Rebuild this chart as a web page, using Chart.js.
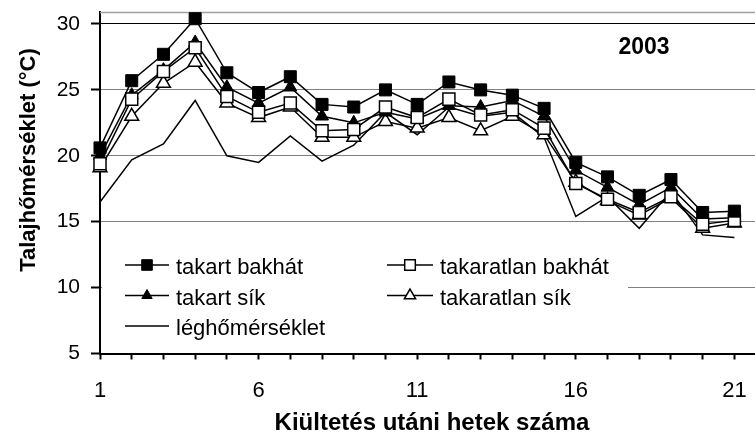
<!DOCTYPE html>
<html><head><meta charset="utf-8">
<script src="https://cdn.jsdelivr.net/npm/chart.js@4/dist/chart.umd.min.js"></script>
<style>html,body{margin:0;padding:0;background:#fff}</style>
</head><body>
<canvas id="c" width="755" height="434" style="display:block;width:755px;height:434px"></canvas>
<script>
const weeks = [1,2,3,4,5,6,7,8,9,10,11,12,13,14,15,16,17,18,19,20,21];
const takartBakhat     = [20.6,25.7,27.7,30.4,26.3,24.8,26.0,23.9,23.7,25.0,23.9,25.6,25.0,24.6,23.6,19.5,18.4,17.0,18.2,15.7,15.8];
const takaratlanBakhat = [19.4,24.3,26.4,28.2,24.5,23.3,24.0,21.9,22.0,23.7,22.9,24.3,23.1,23.5,22.1,17.9,16.7,15.7,16.9,14.8,15.1];
const takartSik        = [20.0,24.6,26.5,28.6,25.2,24.0,25.2,23.0,22.5,23.3,22.8,23.8,23.7,24.2,23.0,18.9,17.6,16.3,17.6,15.2,15.3];
const takaratlanSik    = [19.1,23.0,25.5,27.1,24.0,22.9,23.7,21.4,21.4,22.6,22.1,22.9,21.9,23.0,21.6,18.0,16.6,15.5,16.8,14.5,14.9];
const leghomerseklet   = [16.5,19.7,20.9,24.2,20.0,19.5,21.5,19.6,20.8,23.3,21.6,23.7,23.0,23.3,21.4,15.4,16.9,14.5,17.3,14.0,13.8];
const yTicks = [5,10,15,20,25,30];
const xLabelTicks = [1,6,11,16,21];
const yTitle = 'Talajhőmérséklet (°C)';
const xTitle = 'Kiültetés utáni hetek száma';
const yearLabel = '2003';

const FONT = '"Liberation Sans", Arial, sans-serif';
Chart.defaults.font.family = FONT;
Chart.defaults.color = '#000';

const pts = arr => weeks.map((w, i) => ({x: w, y: arr[i]}));

const datasets = [
  {label: 'takart bakhát', data: pts(takartBakhat), pointStyle: 'rect', pointRadius: 8.5,
   pointBackgroundColor: '#000', pointBorderColor: '#000', pointBorderWidth: 1, legRadius: 7.5, col: 0, row: 0},
  {label: 'takaratlan bakhát', data: pts(takaratlanBakhat), pointStyle: 'rect', pointRadius: 8.5,
   pointBackgroundColor: '#fff', pointBorderColor: '#000', pointBorderWidth: 1.5, legRadius: 7.5, col: 1, row: 0},
  {label: 'takart sík', data: pts(takartSik), pointStyle: 'triangle', pointRadius: 7.5,
   pointBackgroundColor: '#000', pointBorderColor: '#000', pointBorderWidth: 1, legRadius: 6, col: 0, row: 1},
  {label: 'takaratlan sík', data: pts(takaratlanSik), pointStyle: 'triangle', pointRadius: 8,
   pointBackgroundColor: '#fff', pointBorderColor: '#000', pointBorderWidth: 1.5, legRadius: 6.5, col: 1, row: 1},
  {label: 'léghőmérséklet', data: pts(leghomerseklet), pointStyle: false, pointRadius: 0,
   legRadius: 0, col: 0, row: 2}
].map(d => Object.assign({borderColor: '#000', borderWidth: 1.5, tension: 0, clip: false, fill: false}, d));

const decor = {
  id: 'decor',
  beforeDatasetsDraw(chart) {
    const {ctx, chartArea: a} = chart;
    ctx.save();
    ctx.strokeStyle = '#a0a0a0'; ctx.lineWidth = 1.5;
    ctx.beginPath(); ctx.moveTo(a.left, a.top + 0.5); ctx.lineTo(a.right, a.top + 0.5); ctx.stroke();
    ctx.fillStyle = '#fff';
    ctx.fillRect(a.left + 2, 240, 628 - a.left - 2, 351 - 240);
    const colX = [{l0: 125, l1: 169, m: 147, t: 176}, {l0: 387, l1: 433, m: 410, t: 440}];
    const rowY = [265, 295.5, 326];
    ctx.font = '22px ' + FONT;
    ctx.textBaseline = 'alphabetic';
    ctx.textAlign = 'left';
    chart.data.datasets.forEach(ds => {
      const c = colX[ds.col], y = rowY[ds.row];
      ctx.strokeStyle = '#000'; ctx.lineWidth = 1.5;
      ctx.beginPath(); ctx.moveTo(c.l0, y); ctx.lineTo(c.l1, y); ctx.stroke();
      if (ds.pointStyle) {
        ctx.fillStyle = ds.pointBackgroundColor; ctx.strokeStyle = ds.pointBorderColor;
        ctx.lineWidth = ds.pointBorderWidth;
        Chart.helpers.drawPoint(ctx, {pointStyle: ds.pointStyle, radius: ds.legRadius, borderWidth: ds.pointBorderWidth, rotation: 0}, c.m, y);
      }
      ctx.fillStyle = '#000';
      ctx.fillText(ds.label, c.t, y + 9);
    });
    ctx.restore();
  },
  afterDraw(chart) {
    const {ctx} = chart;
    ctx.save();
    ctx.fillStyle = '#000';
    ctx.textBaseline = 'alphabetic';
    ctx.textAlign = 'center';
    ctx.font = 'bold 24px ' + FONT;
    ctx.fillText(xTitle, 432, 430);
    ctx.font = 'bold 23px ' + FONT;
    ctx.fillText(yearLabel, 644, 54);
    ctx.translate(35, 160);
    ctx.rotate(-Math.PI / 2);
    ctx.font = 'bold 22px ' + FONT;
    ctx.fillText(yTitle, 0, 0);
    ctx.restore();
  }
};

new Chart(document.getElementById('c'), {
  type: 'line',
  data: {datasets},
  plugins: [decor],
  options: {
    responsive: false,
    animation: false,
    devicePixelRatio: 1,
    events: [],
    layout: {autoPadding: false, padding: {top: 12, right: 0, left: 0, bottom: 0}},
    plugins: {legend: {display: false}, tooltip: {enabled: false}, title: {display: false}},
    scales: {
      x: {
        type: 'linear', min: 1, max: 21.65,
        afterFit(s) { s.height = 434 - 12 - 341.5; s.paddingLeft = 0; s.paddingRight = 0; },
        border: {display: true, color: '#000', width: 2},
        grid: {drawOnChartArea: false, drawTicks: true, tickLength: 6, tickColor: '#000', tickWidth: 2},
        afterBuildTicks(s) { s.ticks = weeks.map(v => ({value: v})); },
        ticks: {
          autoSkip: false, maxRotation: 0, padding: 18, color: '#000',
          font: {size: 22, family: FONT},
          callback: v => (xLabelTicks.includes(v) ? String(v) : '')
        }
      },
      y: {
        min: 5, max: 30.91,
        afterFit(s) { s.width = 100; s.paddingTop = 0; s.paddingBottom = 0; },
        border: {display: true, color: '#000', width: 2},
        grid: {
          color: c => (c.tick && c.tick.value === 30 ? '#000' : '#808080'),
          lineWidth: 1, tickLength: 9, tickColor: '#000', tickWidth: 2
        },
        afterBuildTicks(s) { s.ticks = yTicks.map(v => ({value: v})); },
        ticks: {padding: 11, color: '#000', font: {size: 21, family: FONT}}
      }
    }
  }
});
</script>
</body></html>
